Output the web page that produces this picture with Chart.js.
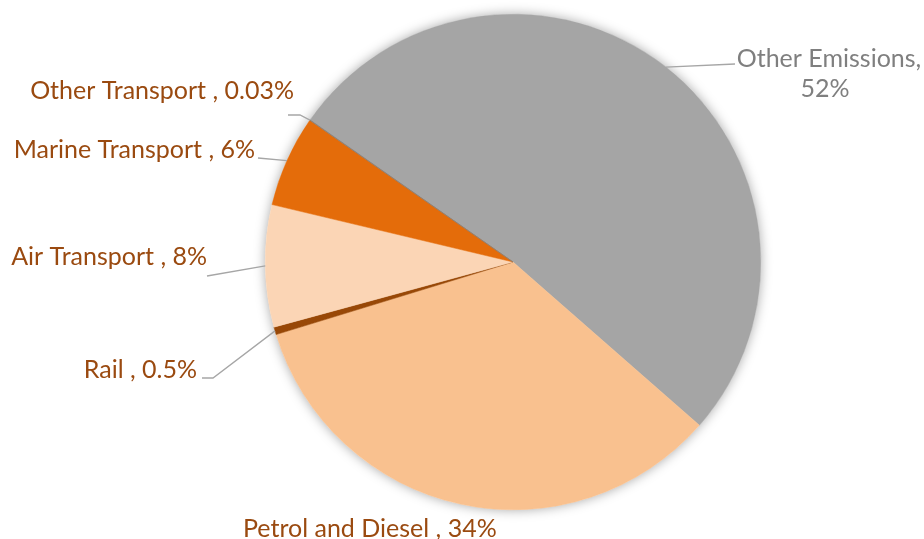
<!DOCTYPE html>
<html lang="en">
<head>
  <meta charset="UTF-8" />
  <title>Transport Emissions</title>
  <style>
    body {
      margin: 0;
      padding: 0;
      background: #ffffff;
    }
    #wrap {
      width: 924px;
      height: 539px;
    }
  </style>
</head>
<body>
  <div id="wrap">
    <canvas id="chart" width="924" height="539"></canvas>
  </div>

  <script src="https://cdn.jsdelivr.net/npm/chart.js"></script>
  <script>
    // data
    const categories = ["Other Emissions", "Petrol and Diesel", "Rail", "Air Transport", "Marine Transport", "Other Transport"];
    const shares = [52, 34, 0.5, 8, 6, 0.03];
    const sliceColors = ["#a5a5a5", "#f9c18f", "#984807", "#fbd5b5", "#e46c0a", "#7f7f7f"];

    // where each label sits, and the bend points of its leader line (layout only)
    const labelSpots = [
      { x: 829, y: 67, align: "center", color: "#7f7f7f", line: [[735, 64]] },
      { x: 243, y: 537, align: "left", color: "#9a4a10", line: null },
      { x: 197, y: 378, align: "right", color: "#9a4a10", line: [[213, 378], [202, 378]] },
      { x: 207, y: 265, align: "right", color: "#9a4a10", line: [[207, 276]] },
      { x: 255, y: 158, align: "right", color: "#9a4a10", line: [[258, 158]] },
      { x: 294, y: 99, align: "right", color: "#9a4a10", line: [[300, 115], [288, 115]] }
    ];

    const FONT = "25px Lato, 'Open Sans', sans-serif";

    const pieShadow = {
      id: "pieShadow",
      beforeDatasetsDraw(chart) {
        const arc = chart.getDatasetMeta(0).data[0];
        const ctx = chart.ctx;
        ctx.save();
        ctx.shadowColor = "rgba(0,0,0,0.35)";
        ctx.shadowBlur = 12;
        ctx.beginPath();
        ctx.arc(arc.x, arc.y, arc.outerRadius, 0, Math.PI * 2);
        ctx.fillStyle = "#ffffff";
        ctx.fill();
        ctx.restore();
      }
    };

    const sliceLabels = {
      id: "sliceLabels",
      afterDatasetsDraw(chart) {
        const ctx = chart.ctx;
        const arcs = chart.getDatasetMeta(0).data;
        ctx.save();
        arcs.forEach((arc, i) => {
          const spot = labelSpots[i];
          const mid = (arc.startAngle + arc.endAngle) / 2;
          const ex = arc.x + Math.cos(mid) * arc.outerRadius;
          const ey = arc.y + Math.sin(mid) * arc.outerRadius;

          if (spot.line) {
            ctx.strokeStyle = "#a6a6a6";
            ctx.lineWidth = 1.3;
            ctx.beginPath();
            ctx.moveTo(ex, ey);
            spot.line.forEach(p => ctx.lineTo(p[0], p[1]));
            ctx.stroke();
          }

          ctx.font = FONT;
          ctx.fillStyle = spot.color;
          ctx.textAlign = spot.align;
          ctx.textBaseline = "alphabetic";
          if (i === 0) {
            ctx.fillText(categories[i] + ",", spot.x, spot.y);
            ctx.fillText(shares[i] + "%", spot.x - 4, spot.y + 30);
          } else {
            ctx.fillText(categories[i] + " , " + shares[i] + "%", spot.x, spot.y);
          }
        });
        ctx.restore();
      }
    };

    new Chart(document.getElementById("chart").getContext("2d"), {
      type: "pie",
      data: {
        labels: categories,
        datasets: [{
          data: shares,
          backgroundColor: sliceColors,
          borderColor: sliceColors,
          borderWidth: 0.5
        }]
      },
      options: {
        responsive: false,
        animation: false,
        devicePixelRatio: 1,
        rotation: -55,
        layout: { padding: { left: 102, top: 14, bottom: 29, right: 0 } },
        plugins: {
          legend: { display: false },
          tooltip: { enabled: false }
        }
      },
      plugins: [pieShadow, sliceLabels]
    });
  </script>
</body>
</html>
